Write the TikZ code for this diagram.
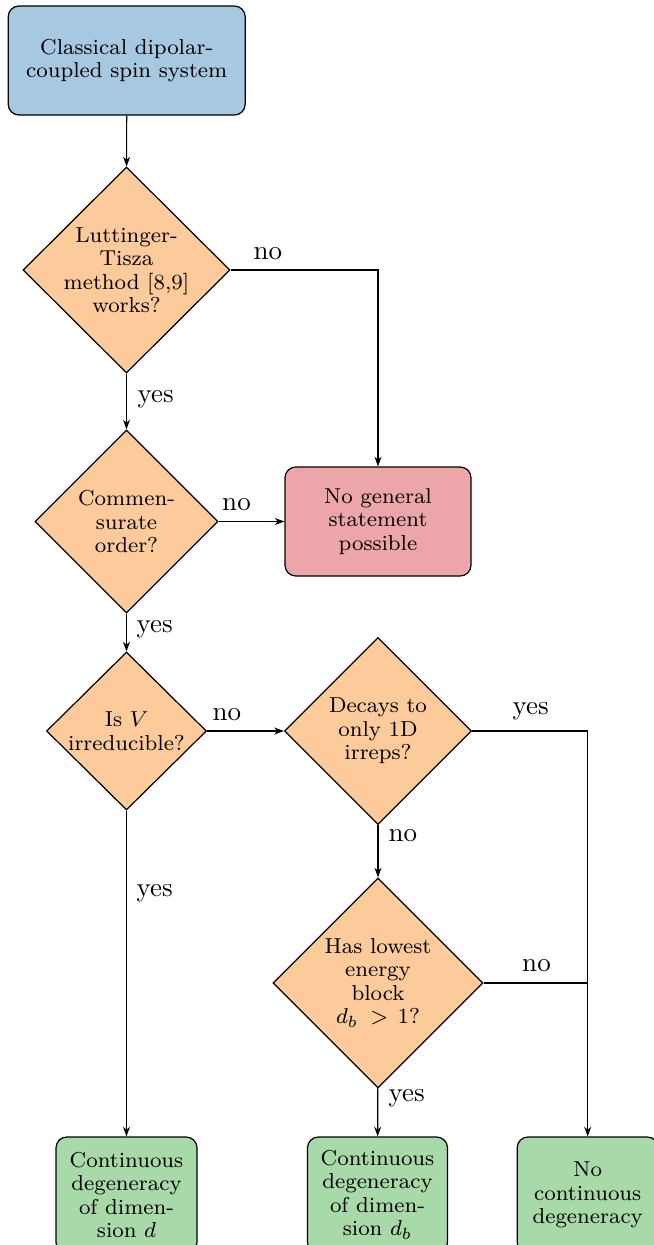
\documentclass[tikz,border=0pt]{standalone}
\usetikzlibrary{shapes.geometric,arrows.meta}
\definecolor{cblue}{RGB}{166,200,224}
\definecolor{cpeach}{RGB}{253,202,155}
\definecolor{cred}{RGB}{236,166,170}
\definecolor{cgreen}{RGB}{168,217,168}
\newcommand\pxu{0.37037pt}
\begin{document}
\begin{tikzpicture}[x=\pxu, y=-\pxu,
  ntext/.style={font=\fontsize{8}{8.7}\selectfont, align=center},
  dec/.style={diamond, draw=black, line width=0.45pt, fill=cpeach, ntext, inner sep=-20pt},
  rbox/.style={rectangle, rounded corners=4pt, draw=black, line width=0.45pt, ntext, inner sep=0pt},
  arr/.style={draw, line width=0.45pt, -{Stealth[length=3.6pt,width=2.6pt]}},
  plain/.style={draw, line width=0.45pt},
  lbl/.style={font=\normalsize, inner sep=0pt, anchor=base west}]
\clip (0,0) rectangle (654,1245);

% nodes
\node[rbox, fill=cblue, minimum width=237*\pxu, minimum height=109*\pxu] (b1) at (126.7,60.5) {Classical dipolar-\\coupled spin system};
\node[dec, minimum width=207*\pxu, minimum height=206*\pxu] (d1) at (126.5,270) {Luttinger-\\Tisza\\method [8,9]\\works?};
\node[dec, minimum width=183*\pxu, minimum height=183*\pxu] (d2) at (126.5,521.5) {Commen-\\surate\\order?};
\node[rbox, fill=cred, minimum width=186*\pxu, minimum height=109*\pxu] (b2) at (378,521.5) {No general\\statement\\possible};
\node[dec, minimum width=160*\pxu, minimum height=158*\pxu] (d3) at (126.5,731) {Is $V$\\irreducible?};
\node[dec, minimum width=187*\pxu, minimum height=187*\pxu] (d4) at (378,731) {Decays to\\only 1D\\irreps?};
\node[dec, minimum width=210*\pxu, minimum height=210*\pxu] (d5) at (378,983) {Has lowest\\energy\\block\\$d_b$\hspace{4.5pt}$>$\hspace{3.5pt}1?};
\node[rbox, fill=cgreen, minimum width=141*\pxu, minimum height=116*\pxu] (e1) at (126.5,1195) {Continuous\\degeneracy\\of dimen-\\sion $d$};
\node[rbox, fill=cgreen, minimum width=140*\pxu, minimum height=116*\pxu] (e2) at (377.5,1195) {Continuous\\degeneracy\\of dimen-\\sion $d_b$};
\node[rbox, fill=cgreen, minimum width=141*\pxu, minimum height=116*\pxu] (e3) at (587.7,1195) {No\\continuous\\degeneracy};

% connectors
\draw[arr] (b1) -- (d1);
\draw[arr] (d1.east) -| (b2.north);
\draw[arr] (d1) -- (d2);
\draw[arr] (d2) -- (b2);
\draw[arr] (d2) -- (d3);
\draw[arr] (d3) -- (d4);
\draw[arr] (d3) -- (e1);
\draw[arr] (d4.east) -| (e3.north);
\draw[arr] (d4) -- (d5);
\draw[arr] (d5) -- (e2);
\draw[plain] (d5.east) -- (d5.east -| e3.north);

% labels
\node[lbl] (l1) at (253,259.5) {no};
\node[lbl] (l2) at (137,402) {yes};
\node[lbl] (l3) at (221.7,510) {no};
\node[lbl] (l4) at (136,632) {yes};
\node[lbl] (l5) at (212,720) {no};
\node[lbl] (l6) at (512,714.5) {yes};
\node[lbl] (l7) at (388,841.5) {no};
\node[lbl] (l8) at (136,896.5) {yes};
\node[lbl] (l9) at (521.7,971) {no};
\node[lbl] (l10) at (388,1101.5) {yes};
\end{tikzpicture}
\end{document}
